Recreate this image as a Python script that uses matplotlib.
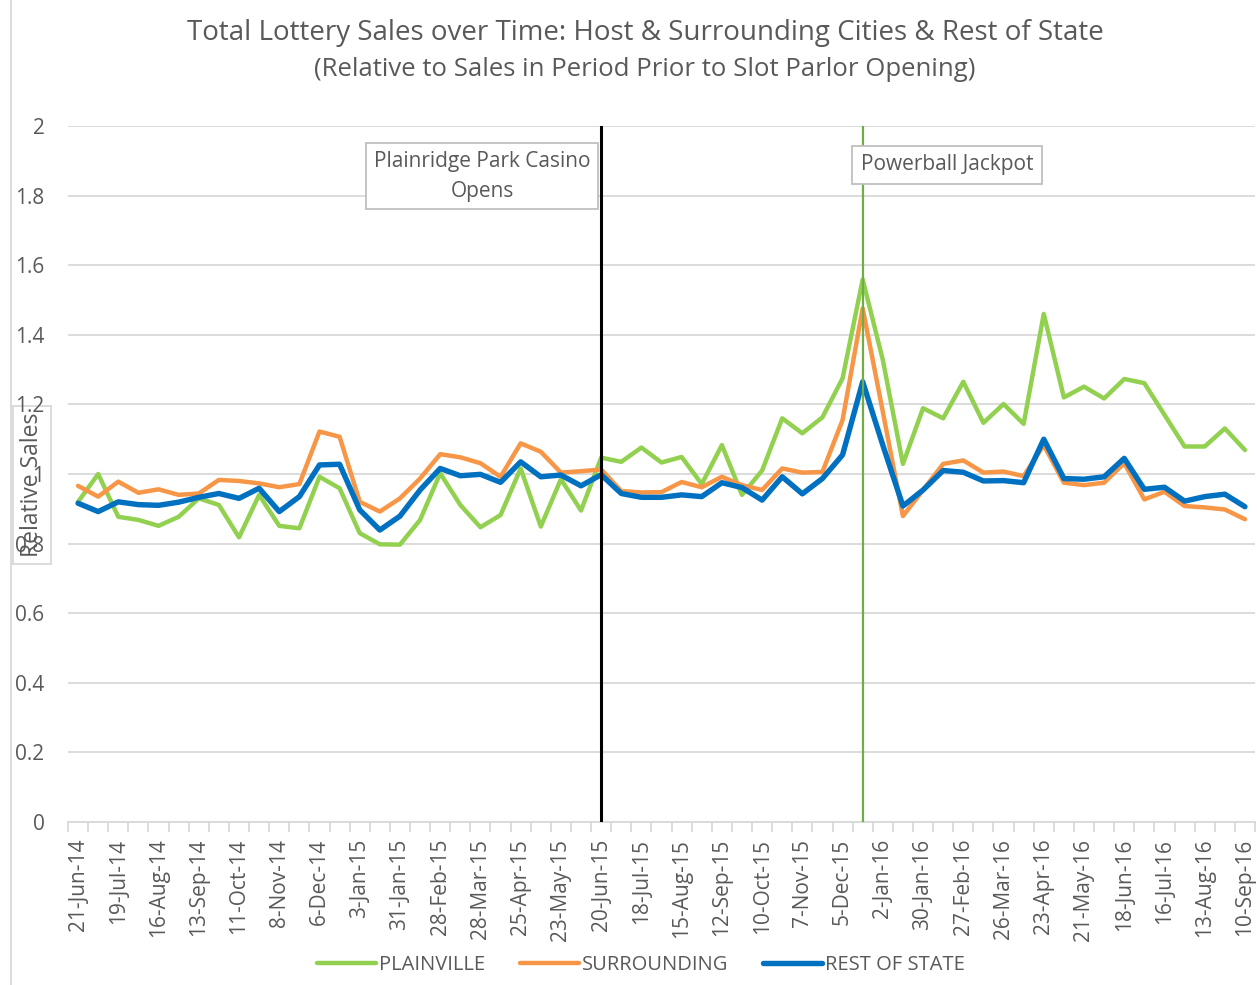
import matplotlib
matplotlib.use('Agg')
import matplotlib.pyplot as plt
from matplotlib.lines import Line2D

plt.rcParams['font.family'] = ['Open Sans', 'DejaVu Sans']

# etiquetas do eixo x (uma a cada 4 semanas, pontos a cada 2 semanas)
tick_labels = ['21-Jun-14', '19-Jul-14', '16-Aug-14', '13-Sep-14', '11-Oct-14', '8-Nov-14',
               '6-Dec-14', '3-Jan-15', '31-Jan-15', '28-Feb-15', '28-Mar-15', '25-Apr-15',
               '23-May-15', '20-Jun-15', '18-Jul-15', '15-Aug-15', '12-Sep-15', '10-Oct-15',
               '7-Nov-15', '5-Dec-15', '2-Jan-16', '30-Jan-16', '27-Feb-16', '26-Mar-16',
               '23-Apr-16', '21-May-16', '18-Jun-16', '16-Jul-16', '13-Aug-16', '10-Sep-16']

plainville = [0.920, 1.000, 0.877, 0.868, 0.851, 0.877, 0.930, 0.911, 0.818, 0.940,
              0.851, 0.844, 0.992, 0.959, 0.830, 0.798, 0.797, 0.868, 1.002, 0.911,
              0.847, 0.882, 1.016, 0.849, 0.985, 0.895, 1.047, 1.035, 1.076, 1.033,
              1.049, 0.971, 1.083, 0.940, 1.010, 1.160, 1.117, 1.163, 1.275, 1.559,
              1.328, 1.029, 1.189, 1.160, 1.265, 1.147, 1.201, 1.144, 1.460, 1.220,
              1.251, 1.217, 1.273, 1.261, 1.170, 1.079, 1.079, 1.131, 1.069]

surrounding = [0.966, 0.935, 0.978, 0.946, 0.956, 0.940, 0.944, 0.983, 0.980, 0.973,
               0.962, 0.971, 1.122, 1.107, 0.920, 0.892, 0.930, 0.987, 1.057, 1.048,
               1.031, 0.992, 1.088, 1.064, 1.004, 1.008, 1.013, 0.951, 0.947, 0.948,
               0.977, 0.962, 0.992, 0.968, 0.954, 1.016, 1.004, 1.006, 1.155, 1.476,
               1.179, 0.879, 0.954, 1.029, 1.039, 1.004, 1.007, 0.994, 1.083, 0.975,
               0.968, 0.975, 1.031, 0.927, 0.949, 0.908, 0.904, 0.898, 0.870]

rest_of_state = [0.916, 0.892, 0.920, 0.912, 0.910, 0.919, 0.933, 0.944, 0.930, 0.959,
                 0.892, 0.935, 1.026, 1.028, 0.897, 0.839, 0.879, 0.954, 1.016, 0.995,
                 0.999, 0.976, 1.035, 0.992, 0.997, 0.966, 0.998, 0.944, 0.933, 0.933,
                 0.940, 0.935, 0.975, 0.961, 0.925, 0.992, 0.943, 0.987, 1.055, 1.265,
                 1.083, 0.908, 0.954, 1.010, 1.005, 0.980, 0.981, 0.975, 1.100, 0.987,
                 0.985, 0.992, 1.045, 0.956, 0.962, 0.922, 0.935, 0.942, 0.906]

# indices dos eventos
casino_open_idx = 26
jackpot_idx = 39

grid_color = '#D9D9D9'
text_color = '#595959'

fig = plt.figure(figsize=(12.57, 9.85), dpi=100)
ax = fig.add_axes([68/1257, 163/985, 1187/1257, 696/985])

x = list(range(len(plainville)))
ax.plot(x, plainville, color='#92D050', lw=3.2, label='PLAINVILLE', solid_capstyle='round', zorder=3)
ax.plot(x, surrounding, color='#F79646', lw=3.2, label='SURROUNDING', solid_capstyle='round', zorder=4)
ax.plot(x, rest_of_state, color='#0070C0', lw=3.9, label='REST OF STATE', solid_capstyle='round', zorder=5)

ax.axvline(casino_open_idx, color='black', lw=2.2, zorder=6)
ax.axvline(jackpot_idx, color='#70AD47', lw=1.6, zorder=6)

ax.set_xlim(-0.5, len(x) - 0.5)
ax.set_ylim(0, 2)
ax.set_yticks([0, 0.2, 0.4, 0.6, 0.8, 1, 1.2, 1.4, 1.6, 1.8, 2])
ax.set_yticklabels(['0', '0.2', '0.4', '0.6', '0.8', '1', '1.2', '1.4', '1.6', '1.8', '2'])
ax.grid(axis='y', color=grid_color, lw=1.3)
ax.set_axisbelow(True)

ax.set_xticks(range(0, len(x), 2))
ax.set_xticklabels(tick_labels, rotation=90)
ax.set_xticks([i - 0.5 for i in range(len(x) + 1)], minor=True)
ax.tick_params(axis='x', which='major', length=0, pad=12, labelsize=15, labelcolor=text_color)
ax.tick_params(axis='x', which='minor', length=7, width=1.3, color=grid_color)
ax.tick_params(axis='y', length=0, pad=17, labelsize=15, labelcolor=text_color)

for s in ['top', 'right', 'left']:
    ax.spines[s].set_visible(False)
ax.spines['bottom'].set_color(grid_color)
ax.spines['bottom'].set_linewidth(1.3)

box = dict(boxstyle='square,pad=0.38', facecolor='white', edgecolor='#BFBFBF', lw=1.3)
ax.text(0.349, 0.928, 'Plainridge Park Casino\nOpens', transform=ax.transAxes, ha='center', va='center',
        fontsize=15, color=text_color, bbox=box, zorder=7, linespacing=1.55)
ax.text(0.7405, 0.944, 'Powerball Jackpot', transform=ax.transAxes, ha='center', va='center',
        fontsize=15, color=text_color, bbox=dict(box, boxstyle='square,pad=0.42'), zorder=7)

fig.text(645/1257, 1 - 33/985, 'Total Lottery Sales over Time: Host & Surrounding Cities & Rest of State',
         ha='center', va='center', fontsize=20, color=text_color)
fig.text(645/1257, 1 - 70/985, '(Relative to Sales in Period Prior to Slot Parlor Opening)',
         ha='center', va='center', fontsize=18.5, color=text_color)

fig.text(32/1257, 1 - 485/985, 'Relative Sales', rotation=90, ha='center', va='center',
         fontsize=16.5, color=text_color, zorder=-1,
         bbox=dict(boxstyle='square,pad=0.3', facecolor='white', edgecolor=grid_color, lw=1.3))

fig.add_artist(Line2D([11/1257, 11/1257], [0, 1], color=grid_color, lw=1.3))

leg = ax.legend(loc='center', bbox_to_anchor=(641/1257, 1 - 965/985), bbox_transform=fig.transFigure,
                ncol=3, frameon=False, fontsize=14.5, handlelength=2.9, handletextpad=0.15,
                columnspacing=1.75, labelcolor=text_color)

fig.savefig('out.png', dpi=100)
